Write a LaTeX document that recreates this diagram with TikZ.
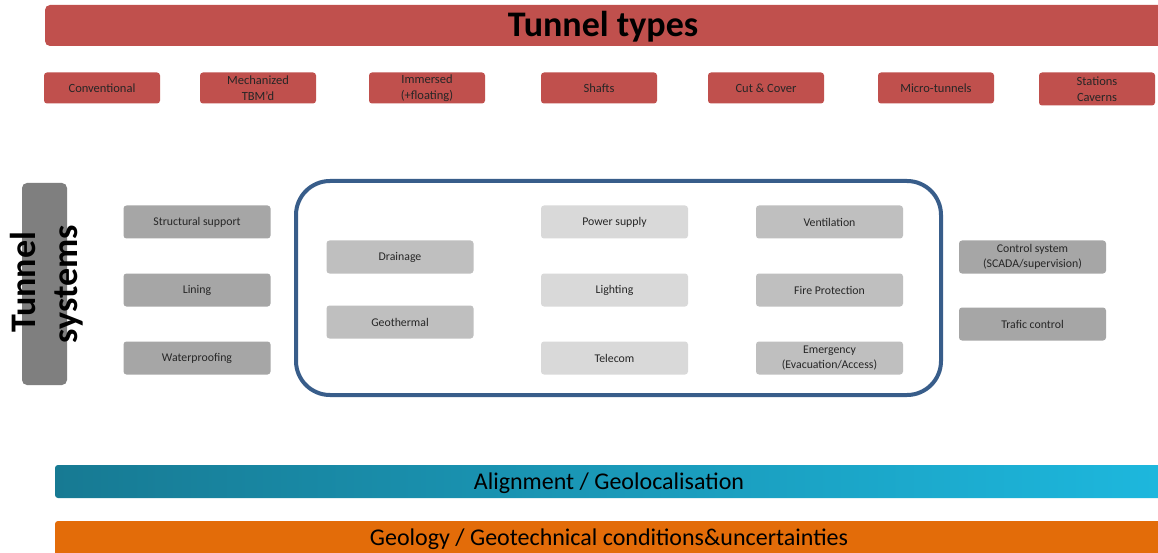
\documentclass[tikz,border=0pt]{standalone}
\usepackage{fontspec}
\setmainfont{Carlito}
\definecolor{typered}{HTML}{C0504D}
\definecolor{darkgrey}{HTML}{7F7F7F}
\definecolor{midgrey}{HTML}{A6A6A6}
\definecolor{softgrey}{HTML}{BFBFBF}
\definecolor{lightgrey}{HTML}{D9D9D9}
\definecolor{frameblue}{HTML}{385D8A}
\definecolor{tealdark}{HTML}{177A93}
\definecolor{teallight}{HTML}{1DB8DE}
\definecolor{geoorange}{HTML}{E36C09}
\tikzset{
  typebox/.style={fill=typered, rounded corners=3pt, minimum width=116pt, minimum height=31pt,
    align=center, font=\fontsize{12.5}{16}\selectfont, text=black!85, inner sep=0pt},
  sysbox/.style={rounded corners=3pt, minimum width=147pt, minimum height=33pt,
    align=center, font=\fontsize{11.8}{15}\selectfont, text=black!85, inner sep=0pt},
  bandtext/.style={font=\fontsize{24}{26}\selectfont},
  sidetext/.style={rotate=90, anchor=base, inner sep=0pt, font=\bfseries\fontsize{36}{36}\selectfont}
}
\begin{document}
\begin{tikzpicture}[x=1pt,y=-1pt]
\useasboundingbox (0,0) rectangle (1158,553);
\fill[white] (0,0) rectangle (1158,553);

% Header band
\fill[typered, rounded corners=5pt] (45,5) rectangle (1175,46);
\node[font=\bfseries\fontsize{36}{38}\selectfont] (title) at (603,27) {Tunnel types};

% Tunnel types
\node[typebox] (conv) at (102,88) {Conventional};
\node[typebox] (mech) at (258,88) {Mechanized\\TBM’d};
\node[typebox] (imm) at (427,88) {Immersed\\(+floating)};
\node[typebox] (shaft) at (599,88) {Shafts};
\node[typebox] (cut) at (766,88) {Cut \& Cover};
\node[typebox] (micro) at (936,88) {Micro-tunnels};
\node[typebox, minimum height=33pt] (stat) at (1097,89) {Stations\\Caverns};

% Tunnel systems label bar
\fill[darkgrey, rounded corners=5pt] (22,183) rectangle (67,385);
\node[sidetext] (tunnelword) at (35,282.5) {Tunnel};
\node[sidetext] (systemsword) at (77,284) {systems};

% Frame around the shared equipment
\draw[frameblue, line width=4pt, rounded corners=34pt] (296,181) rectangle (941,395);

% Left column
\node[sysbox, fill=midgrey] (struct) at (197,222) {Structural support};
\node[sysbox, fill=midgrey] (lining) at (197,290) {Lining};
\node[sysbox, fill=midgrey] (water) at (197,358) {Waterproofing};

% Inside the frame
\node[sysbox, fill=softgrey] (drain) at (400,257) {Drainage};
\node[sysbox, fill=softgrey] (geoth) at (400,322) {Geothermal};
\node[sysbox, fill=lightgrey] (power) at (614.5,222) {Power supply};
\node[sysbox, fill=lightgrey] (light) at (614.5,290) {Lighting};
\node[sysbox, fill=lightgrey] (tele) at (614.5,358) {Telecom};
\node[sysbox, fill=softgrey] (vent) at (829.5,222) {Ventilation};
\node[sysbox, fill=softgrey] (fire) at (829.5,290) {Fire Protection};
\node[sysbox, fill=softgrey] (emerg) at (829.5,358) {Emergency\\(Evacuation/Access)};

% Right column
\node[sysbox, fill=midgrey] (ctrl) at (1032.5,257) {Control system\\(SCADA/supervision)};
\node[sysbox, fill=midgrey] (traf) at (1032.5,324) {Trafic control};

% Bottom bands
\shade[left color=tealdark, right color=teallight, rounded corners=3pt] (55,465) rectangle (1175,498);
\node[bandtext] (align) at (609,483) {Alignment / Geolocalisation};
\fill[geoorange, rounded corners=3pt] (55,521) rectangle (1175,570);
\node[bandtext] (geo) at (609,539) {Geology / Geotechnical conditions\&uncertainties};
\end{tikzpicture}
\end{document}
